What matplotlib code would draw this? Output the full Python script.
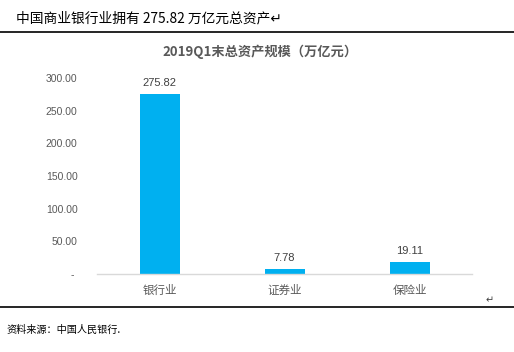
import matplotlib
matplotlib.use("Agg")
import matplotlib.pyplot as plt
from matplotlib.lines import Line2D

categories = ["银行业", "证券业", "保险业"]
values = [275.82, 7.78, 19.11]
yticks = [0, 50, 100, 150, 200, 250, 300]
ytick_labels = ["- ", "50.00", "100.00", "150.00", "200.00", "250.00", "300.00"]

plt.rcParams['font.family'] = ['Liberation Sans', 'Noto Sans CJK SC', 'DejaVu Sans']
cjk = ['Noto Sans CJK SC', 'DejaVu Sans']

W, H = 514, 352
fig = plt.figure(figsize=(W / 100, H / 100), dpi=100)
fig.patch.set_facecolor("white")

ax = fig.add_axes([97 / W, 78 / H, 375 / W, 196 / H])
x = list(range(len(categories)))
bars = ax.bar(x, values, width=0.32, color="#00B0F0", zorder=2)
ax.set_xlim(-0.5, len(categories) - 0.5)
ax.set_ylim(0, 300)
ax.set_yticks(yticks)
ax.set_yticklabels(ytick_labels)
ax.set_xticks(x)
ax.set_xticklabels(categories, family=cjk, fontsize=8.3, color="#595959")
for s in ["top", "left", "right"]:
    ax.spines[s].set_visible(False)
ax.spines["bottom"].set_color("#D9D9D9")
ax.spines["bottom"].set_linewidth(1.0)
ax.tick_params(axis="y", length=0, pad=14, labelsize=7.5, labelcolor="#595959")
ax.tick_params(axis="x", length=0, pad=7)
for xi, v in zip(x, values):
    ax.annotate(f"{v:.2f}", (xi, v), xytext=(0, 4), textcoords="offset points",
                ha="center", va="bottom", fontsize=8, color="#404040")

# chart title
fig.text(260 / W, 1 - 52 / H, "2019Q1末总资产规模（万亿元）", family=cjk,
         fontsize=9.5, fontweight="bold", color="#595959", ha="center", va="center")

# document text
fig.text(16 / W, 1 - 18 / H, "中国商业银行业拥有 275.82 万亿元总资产↵", family=cjk,
         fontsize=9.9, color="black", ha="left", va="center")
fig.add_artist(Line2D([0, 1], [1 - 32 / H, 1 - 32 / H], color="black", lw=1.2))
fig.add_artist(Line2D([0, 1], [1 - 307 / H, 1 - 307 / H], color="black", lw=1.2))
fig.text(490 / W, 1 - 300 / H, "↵", family=['DejaVu Sans'], fontsize=7, color="#404040",
         ha="center", va="center")
fig.text(6 / W, 1 - 330 / H, "资料来源：中国人民银行.", family=cjk, fontsize=7.3,
         color="black", ha="left", va="center", style="italic")

fig.savefig("out.png", dpi=100)
